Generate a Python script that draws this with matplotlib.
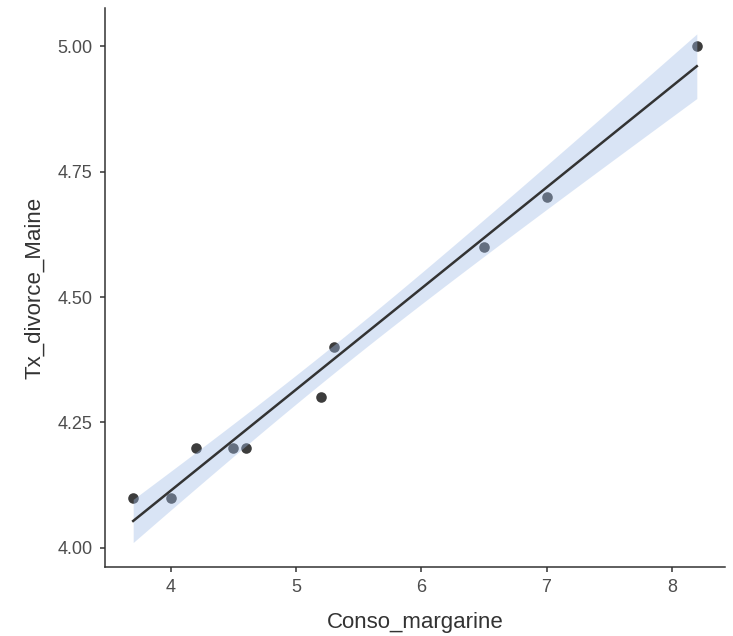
import numpy as np
import matplotlib
matplotlib.use('Agg')
import matplotlib.pyplot as plt

plt.rcParams['font.family'] = ['Liberation Sans', 'DejaVu Sans']

conso_margarine = [8.2, 7.0, 6.5, 5.3, 5.2, 4.0, 4.6, 4.5, 4.2, 3.7]
tx_divorce_maine = [5.0, 4.7, 4.6, 4.4, 4.3, 4.1, 4.2, 4.2, 4.2, 4.1]
xticks = [4, 5, 6, 7, 8]
yticks = [4.00, 4.25, 4.50, 4.75, 5.00]

x = np.array(conso_margarine)
y = np.array(tx_divorce_maine)

# linear fit + 95% confidence band (like geom_smooth(method='lm'))
n = len(x)
slope, intercept = np.polyfit(x, y, 1)
resid = y - (slope * x + intercept)
s = np.sqrt(np.sum(resid ** 2) / (n - 2))
sxx = np.sum((x - x.mean()) ** 2)
t_crit = 2.306  # t(0.975, df=8)
xs = np.linspace(x.min(), x.max(), 80)
fit = slope * xs + intercept
se = s * np.sqrt(1 / n + (xs - x.mean()) ** 2 / sxx)

fig = plt.figure(figsize=(7.33, 6.36), dpi=100)
ax = fig.add_axes([105 / 733, 69 / 636, 620 / 733, 559 / 636])

ax.scatter(x, y, s=58, color='#3c3c3c', zorder=2, linewidths=0)
ax.fill_between(xs, fit - t_crit * se, fit + t_crit * se,
                color='#a2bde7', alpha=0.4, linewidth=0, zorder=3)
ax.plot(xs, fit, color='#333333', lw=1.8, zorder=4)

ax.set_xlim(3.475, 8.425)
ax.set_ylim(3.962, 5.076)
ax.set_xticks(xticks)
ax.set_yticks(yticks)
ax.set_yticklabels(['%.2f' % v for v in yticks])

for side in ['top', 'right']:
    ax.spines[side].set_visible(False)
for side in ['left', 'bottom']:
    ax.spines[side].set_color('#333333')
    ax.spines[side].set_linewidth(1.1)
ax.tick_params(colors='#333333', labelcolor='#4d4d4d', labelsize=13,
               length=3.5, width=1.1, pad=5.5)

ax.set_xlabel('Conso_margarine', fontsize=16, color='#333333', labelpad=11)
ax.set_ylabel('Tx_divorce_Maine', fontsize=16, color='#333333', labelpad=9)

fig.savefig('out.png', dpi=100)
